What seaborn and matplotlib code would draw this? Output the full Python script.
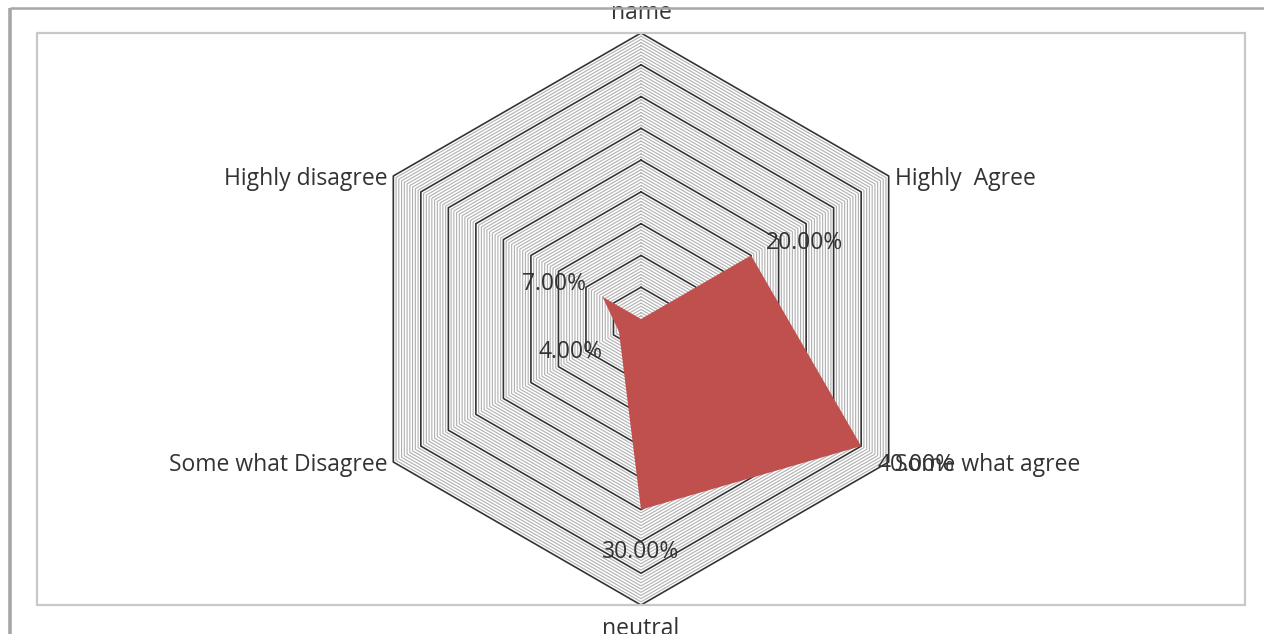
import numpy as np
import matplotlib
matplotlib.use("Agg")
import matplotlib.pyplot as plt
from matplotlib.lines import Line2D
from matplotlib.patches import Rectangle
import seaborn as sns

# Survey responses (share of respondents, %)
categories = ["name", "Highly  Agree", "Some what agree", "neutral",
              "Some what Disagree", "Highly disagree"]
values = [0.0, 20.0, 40.0, 30.0, 4.0, 7.0]
value_labels = ["", "20.00%", "40.00%", "30.00%", "4.00%", "7.00%"]

r_max = 45.0
major_step = 5.0
minor_step = 0.5

sns.set_theme(style="white")
plt.rcParams["font.family"] = ["Open Sans", "DejaVu Sans"]
TEXT_SIZE = 16.5
TEXT_COLOR = "#333333"

W, H = 1264, 634
fig = plt.figure(figsize=(W / 100, H / 100), dpi=100)
fig.patch.set_facecolor("white")

# outer chart border (left and top edges) and inner plot-area frame
fig.add_artist(Line2D([10 / W, 10 / W], [0, 1 - 8 / H], transform=fig.transFigure,
                      color="#a6a6a6", lw=2.6, solid_capstyle="butt"))
fig.add_artist(Line2D([10 / W, 1], [1 - 8 / H, 1 - 8 / H], transform=fig.transFigure,
                      color="#a6a6a6", lw=1.8, solid_capstyle="butt"))
fig.add_artist(Rectangle((37 / W, (H - 605) / H), (1245 - 37) / W, (605 - 33) / H,
                         transform=fig.transFigure, fill=False,
                         edgecolor="#c8c8c8", lw=1.6))

cx, cy, rad = 641, 319, 286
ax = fig.add_axes([(cx - rad) / W, (H - cy - rad) / H, 2 * rad / W, 2 * rad / H],
                  projection="polar")
ax.set_theta_offset(np.pi / 2)
ax.set_theta_direction(-1)
ax.set_ylim(0, r_max)
ax.grid(False)
ax.spines["polar"].set_visible(False)
ax.set_xticks([])
ax.set_yticks([])
ax.patch.set_alpha(0)

n = len(categories)
theta = np.linspace(0, 2 * np.pi, n, endpoint=False)
theta_closed = np.append(theta, theta[0])

# hexagonal gridlines: light minor rings, dark major rings
levels = np.arange(minor_step, r_max + 1e-9, minor_step)
for lv in levels:
    is_major = abs(lv / major_step - round(lv / major_step)) < 1e-6
    if is_major:
        continue
    ax.plot(theta_closed, [lv] * (n + 1), color="#b0b0b0", lw=0.8,
            zorder=1, clip_on=False)
for lv in np.arange(major_step, r_max + 1e-9, major_step):
    ax.plot(theta_closed, [lv] * (n + 1), color="#333333", lw=1.2,
            zorder=2, clip_on=False)

# data polygon
vals_closed = np.append(values, values[0])
ax.fill(theta_closed, vals_closed, color="#C0504D", zorder=3, lw=0)

# category labels around the outer ring (offsets in pixels)
cat_offsets = [(0, 20, "center", "center"),
               (6, -3, "left", "center"),
               (6, -3, "left", "center"),
               (0, -24, "center", "center"),
               (-6, -3, "right", "center"),
               (-6, -3, "right", "center")]
for t, name, (dx, dy, ha, va) in zip(theta, categories, cat_offsets):
    ax.annotate(name, xy=(t, r_max), xytext=(dx * 0.72, dy * 0.72),
                textcoords="offset points", ha=ha, va=va, fontsize=TEXT_SIZE,
                color=TEXT_COLOR, annotation_clip=False, zorder=5)

# value labels next to each vertex (offsets in pixels)
lab_offsets = [(0, 0), (53, 12), (55, -19), (0, -42), (-48, -20), (-48, 13)]
for t, v, lab, (dx, dy) in zip(theta, values, value_labels, lab_offsets):
    if not lab:
        continue
    ax.annotate(lab, xy=(t, v), xytext=(dx * 0.72, dy * 0.72),
                textcoords="offset points", ha="center", va="center",
                fontsize=TEXT_SIZE, color=TEXT_COLOR, annotation_clip=False,
                zorder=6)

fig.savefig("out.png", dpi=100, facecolor="white")
